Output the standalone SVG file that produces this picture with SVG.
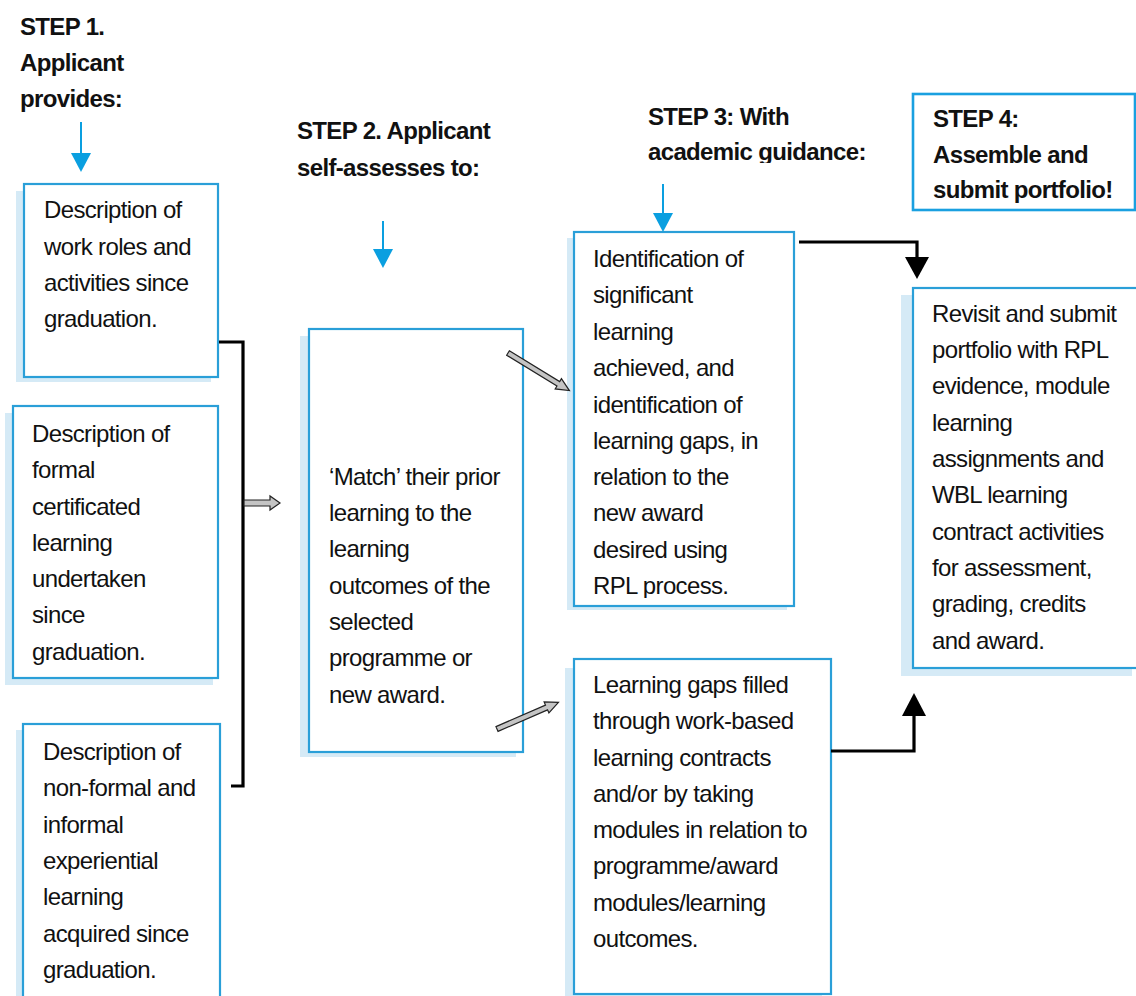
<svg xmlns="http://www.w3.org/2000/svg" width="1136" height="996" viewBox="0 0 1136 996">
  <style>
    text { font-family: "Liberation Sans", Arial, sans-serif; font-size: 24px; letter-spacing: -0.65px; fill: #111; }
    .head { font-weight: bold; }
    .box { fill: #fff; stroke: #2a9fd8; stroke-width: 2.2; }
    .shadow { fill: #d5eaf6; }
    .cue { stroke: #0a9fe0; stroke-width: 2; fill: none; }
    .cuehead { fill: #0a9fe0; }
    .flow { stroke: #000; stroke-width: 3.2; fill: none; }
    .block { fill: #c4c4c4; stroke: #222; stroke-width: 1.2; stroke-linejoin: miter; }
  </style>
  <defs>
    <clipPath id="clipStep3"><rect x="600" y="90" width="300" height="73"/></clipPath>
    <clipPath id="clipIdent"><rect x="575" y="233" width="218" height="365"/></clipPath>
  </defs>
  <rect width="1136" height="996" fill="#fff"/>

  <!-- step headings -->
  <g id="step1-heading">
    <text class="head" x="20" y="35">STEP 1.</text>
    <text class="head" x="20" y="71">Applicant</text>
    <text class="head" x="20" y="107">provides:</text>
  </g>
  <g id="step2-heading">
    <text class="head" x="297" y="139">STEP 2. Applicant</text>
    <text class="head" x="297" y="176">self-assesses to:</text>
  </g>
  <g id="step3-heading" clip-path="url(#clipStep3)">
    <text class="head" x="648" y="125">STEP 3: With</text>
    <text class="head" x="648" y="160">academic guidance:</text>
  </g>
  <g id="step4">
    <rect x="913" y="94" width="222" height="116" fill="#fff" stroke="#1aa0e0" stroke-width="2.6"/>
    <text class="head" x="933" y="127">STEP 4:</text>
    <text class="head" x="933" y="163">Assemble and</text>
    <text class="head" x="933" y="198">submit portfolio!</text>
  </g>

  <!-- step 1 inputs -->
  <g id="work-roles">
    <rect class="shadow" x="16" y="191" width="195" height="191"/>
    <rect class="box" x="24" y="184" width="194" height="193"/>
    <text x="44" y="218">Description of</text>
    <text x="44" y="255">work roles and</text>
    <text x="44" y="291">activities since</text>
    <text x="44" y="327">graduation.</text>
  </g>
  <g id="formal-learning">
    <rect class="shadow" x="5" y="413" width="208" height="272"/>
    <rect class="box" x="13" y="406" width="205" height="272"/>
    <text x="32" y="442">Description of</text>
    <text x="32" y="478">formal</text>
    <text x="32" y="515">certificated</text>
    <text x="32" y="551">learning</text>
    <text x="32" y="587">undertaken</text>
    <text x="32" y="623">since</text>
    <text x="32" y="660">graduation.</text>
  </g>
  <g id="informal-learning">
    <rect class="shadow" x="16" y="730" width="197" height="280"/>
    <rect class="box" x="23" y="724" width="197" height="290"/>
    <text x="43" y="760">Description of</text>
    <text x="43" y="796">non-formal and</text>
    <text x="43" y="833">informal</text>
    <text x="43" y="869">experiential</text>
    <text x="43" y="905">learning</text>
    <text x="43" y="942">acquired since</text>
    <text x="43" y="978">graduation.</text>
  </g>

  <!-- step 2 -->
  <g id="match">
    <rect class="shadow" x="300" y="336" width="216" height="421"/>
    <rect class="box" x="309" y="329" width="214" height="423"/>
    <text x="329" y="485">‘Match’ their prior</text>
    <text x="329" y="521">learning to the</text>
    <text x="329" y="557">learning</text>
    <text x="329" y="594">outcomes of the</text>
    <text x="329" y="630">selected</text>
    <text x="329" y="666">programme or</text>
    <text x="329" y="703">new award.</text>
  </g>

  <!-- step 3 -->
  <g id="identification">
    <rect class="shadow" x="567" y="238" width="220" height="372"/>
    <rect class="box" x="574" y="232" width="220" height="374"/>
    <g clip-path="url(#clipIdent)">
      <text x="593" y="267">Identification of</text>
      <text x="593" y="303">significant</text>
      <text x="593" y="340">learning</text>
      <text x="593" y="376">achieved, and</text>
      <text x="593" y="413">identification of</text>
      <text x="593" y="449">learning gaps, in</text>
      <text x="593" y="485">relation to the</text>
      <text x="593" y="521">new award</text>
      <text x="593" y="558">desired using</text>
      <text x="593" y="594">RPL process.</text>
    </g>
  </g>
  <g id="gaps-filled">
    <rect class="shadow" x="565" y="668" width="257" height="330"/>
    <rect class="box" x="574" y="659" width="257" height="335"/>
    <text x="593" y="693">Learning gaps filled</text>
    <text x="593" y="729">through work-based</text>
    <text x="593" y="766">learning contracts</text>
    <text x="593" y="802">and/or by taking</text>
    <text x="593" y="838">modules in relation to</text>
    <text x="593" y="874">programme/award</text>
    <text x="593" y="911">modules/learning</text>
    <text x="593" y="947">outcomes.</text>
  </g>

  <!-- step 4 -->
  <g id="submit">
    <rect class="shadow" x="901" y="295" width="231" height="381"/>
    <rect class="box" x="913" y="288" width="240" height="380"/>
    <text x="932" y="322">Revisit and submit</text>
    <text x="932" y="358">portfolio with RPL</text>
    <text x="932" y="394">evidence, module</text>
    <text x="932" y="431">learning</text>
    <text x="932" y="467">assignments and</text>
    <text x="932" y="503">WBL learning</text>
    <text x="932" y="540">contract activities</text>
    <text x="932" y="576">for assessment,</text>
    <text x="932" y="612">grading, credits</text>
    <text x="932" y="649">and award.</text>
  </g>

  <!-- connectors -->
  <g id="connectors">
    <!-- blue cue arrows under the headings -->
    <line class="cue" x1="81" y1="122" x2="81" y2="155"/>
    <polygon class="cuehead" points="71,153 91,153 81,172"/>
    <line class="cue" x1="383" y1="221" x2="383" y2="251"/>
    <polygon class="cuehead" points="373,249 393,249 383,268"/>
    <line class="cue" x1="663" y1="184" x2="663" y2="215"/>
    <polygon class="cuehead" points="653,213 673,213 663,232"/>

    <!-- bracket joining the step 1 inputs -->
    <path class="flow" d="M219,342 H243 V786 H231"/>

    <!-- grey block arrows -->
    <polygon class="block" transform="translate(244,503)" points="0,-3 26,-3 26,-7 36,0 26,7 26,3 0,3"/>
    <polygon class="block" transform="translate(508,353) rotate(31.5)" points="0,-2.6 59,-2.6 59,-6 72,0 59,6 59,2.6 0,2.6"/>
    <polygon class="block" transform="translate(497,729) rotate(-23.5)" points="0,-2.6 54,-2.6 54,-6 67,0 54,6 54,2.6 0,2.6"/>

    <!-- into step 4 -->
    <path class="flow" d="M799,242 H917 V259"/>
    <polygon points="905,257 929,257 917,279" fill="#000"/>
    <path class="flow" d="M831,751 H914 V714"/>
    <polygon points="902,716 926,716 914,693" fill="#000"/>
  </g>
</svg>
